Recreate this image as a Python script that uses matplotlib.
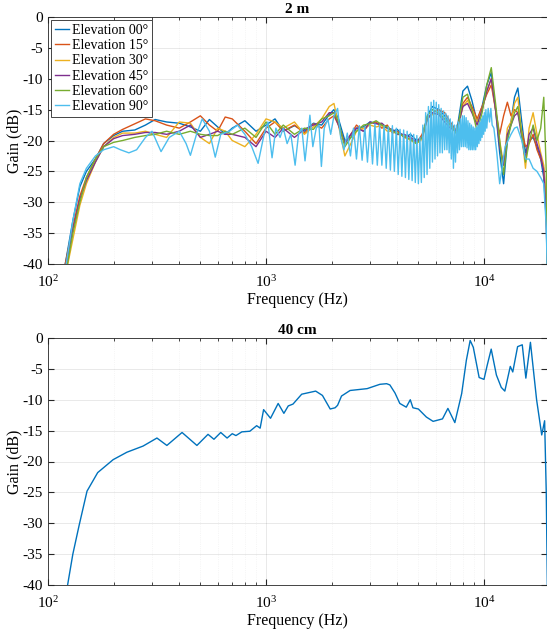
import matplotlib
matplotlib.use("Agg")
import matplotlib.pyplot as plt
from matplotlib.ticker import LogLocator, NullFormatter, FixedLocator

plt.rcParams['font.family'] = ['Liberation Serif', 'DejaVu Serif']
plt.rcParams['mathtext.fontset'] = 'stix'
plt.rcParams['axes.unicode_minus'] = False

# ---------------- data: 2 m ----------------
labels = ['Elevation 00°', 'Elevation 15°', 'Elevation 30°',
          'Elevation 45°', 'Elevation 60°', 'Elevation 90°']
colors = ['#0072BD', '#D95319', '#EDB120', '#7E2F8E', '#77AC30', '#4DBEEE']

F_A = [120, 130, 140, 150, 165, 180, 200, 220, 250, 280, 310, 350, 400, 450, 500,
       550, 600, 650, 700, 800, 900, 1000, 1100, 1200, 1350, 1500, 1650, 1800, 1950,
       2050, 2150, 2300, 2450, 2600, 2800, 3000, 3200, 3400, 3600, 3800, 4000, 4300,
       4600, 4900, 5200, 5500, 5800, 6200, 6600, 7000, 7500, 8000, 8400, 8800, 9300,
       9800, 10300, 10800, 11300, 11800, 12300, 12800, 13300, 13800, 14300, 14900,
       15500, 16100, 16800, 17500, 18200, 18800, 19300, 19600]

G_00 = [-40, -33, -27.5, -25, -23, -20.5, -19.2, -18.5, -18.3, -17.5, -16.6, -17, -17.2,
        -17.8, -18.5, -16.6, -17.8, -19, -18, -16.8, -18.5, -17.5, -16.5, -18.5, -17.6,
        -18.5, -17.2, -17.5, -15.8, -15, -16.5, -20, -19.5, -18, -17.8, -17, -17.2, -17.5,
        -18, -18.5, -18.2, -19.5, -19, -20, -19.5, -16, -14.5, -15, -16, -17.5, -18.5,
        -12, -11.2, -13.5, -17, -14.5, -11, -9, -15, -22, -27, -20, -17, -13, -11.5, -17,
        -22, -20, -19.5, -21, -23, -26, -33, -45]
G_15 = [-40, -34, -29, -26, -23, -20.5, -19, -18.2, -17.3, -16.5, -16.8, -17.5, -18,
        -17, -16, -17.5, -18.5, -16.2, -16.5, -18.5, -20.5, -18, -17, -18.5, -17.5,
        -18.8, -17.3, -18, -16.5, -16, -17.5, -20.5, -19, -17.5, -18.5, -17.2, -17, -18,
        -17.5, -18.8, -18.5, -19.5, -19.8, -20.5, -19, -16.5, -15.5, -15, -15.5, -17,
        -18.5, -14, -13, -14.5, -16.5, -14.5, -12.5, -11, -15, -19, -16, -13.8, -16, -15,
        -15.5, -18.5, -21, -20.5, -19, -21.5, -23, -24.5, -30, -45]
G_30 = [-42, -36, -30.5, -27, -23.5, -21, -19.5, -18.8, -18.8, -18.5, -19, -19.5, -17,
        -17.2, -19.5, -20.5, -18, -18.5, -20, -21, -19, -16.5, -17, -18, -17, -19, -17.8,
        -16.5, -14.5, -14, -17.5, -22.5, -20.5, -18.5, -18, -17.5, -17.8, -17.6, -18.5,
        -18.5, -19, -19.2, -20, -20.5, -19.8, -16.5, -15.8, -15.5, -16.5, -17.5, -18.8,
        -14.5, -13.5, -15, -17, -15, -12, -10, -15, -20, -24, -18, -17, -14, -13, -19,
        -24.5, -18, -15.5, -19, -22, -24, -31, -45]
G_45 = [-41, -34.5, -29.5, -26.5, -23.5, -21, -19.7, -19.2, -19, -18.7, -18.7, -19,
        -18.5, -17.5, -19.5, -19, -18.5, -19, -19, -19.5, -21, -18.5, -19.5, -18, -19.5,
        -18.2, -17.5, -17, -15.5, -15.5, -17.5, -20.5, -19, -18, -18.5, -17, -17.3, -17.2,
        -18, -18.2, -19, -19, -19.5, -20.2, -19.5, -16.5, -15.5, -15.8, -17, -18, -18.5,
        -14.5, -14, -15.5, -17.5, -15, -12, -10, -15, -21, -24, -19, -17.5, -16, -15.5,
        -19.5, -23, -19, -18, -20.5, -22.5, -25, -32, -45]
G_60 = [-42, -35, -30, -26, -23, -21, -20.3, -20, -19.5, -19.2, -19, -18.5, -19, -18.5,
        -19, -19.2, -19.2, -18.5, -19, -18, -19.5, -17, -19, -17.5, -19, -18, -18.2,
        -16.5, -16, -15.5, -17, -21, -19.5, -18.5, -17.5, -17.3, -16.8, -17.5, -17.8,
        -18.5, -18.8, -19.3, -19.8, -20.5, -19.5, -16, -15, -15.5, -16.5, -17.5, -19,
        -13, -12.5, -15, -18.5, -15.5, -11, -8.2, -14, -20, -25.5, -20, -17.5, -15.5,
        -14.5, -19, -23.5, -20.5, -17.5, -20, -18, -13, -25, -45]

F_90 = [120, 130, 140, 150, 165, 180, 200, 215, 235, 255, 280, 300, 330, 360, 400, 430,
        450, 480, 510, 550, 585, 620, 680, 740, 800, 860, 920, 980, 1020, 1066, 1110,
        1160, 1200, 1250, 1300, 1360, 1410, 1460, 1510, 1590, 1640, 1700, 1750, 1795,
        1850, 1920, 1980, 2050, 2130,
        2200, 2280, 2360, 2440, 2520, 2600, 2680, 2760, 2840, 2920, 3000, 3080, 3160,
        3240, 3320, 3400, 3480, 3560, 3640, 3720, 3800, 3880, 3960, 4040, 4120, 4200,
        4280, 4360, 4440, 4520, 4600, 4680, 4760, 4840, 4920, 5000, 5080, 5160, 5240,
        5320, 5400, 5480, 5560, 5640, 5720, 5800, 5880, 5960, 6040, 6120, 6200, 6280,
        6360, 6440, 6520, 6600, 6680, 6760, 6840, 6920, 7000, 7080, 7160, 7240, 7320,
        7400, 7480, 7560, 7640, 7720, 7800, 7880, 7960, 8040, 8120, 8200, 8280, 8360,
        8440, 8520, 8600, 8680, 8760, 8840, 8920, 9000, 9080, 9160, 9240, 9320, 9400,
        9480, 9560, 9640, 9720, 9800, 9880, 9960, 10040, 10120, 10200, 10300, 10450,
        10600, 10750, 10900, 11100, 11450, 11800, 12150, 12500, 12900, 13300, 13800,
        14200, 14900, 15500, 16100, 16800, 17500, 18200, 18800, 19300, 19600]
G_90 = [-41, -33, -27, -24.5, -22.5, -21.5, -21, -21.5, -22, -21.5, -19.5, -18.5, -21.8,
        -19.5, -18.5, -20.5, -22.4, -19, -16.5, -18.5, -22.7, -19, -18.5, -17.5, -19,
        -21, -23.7, -19, -17, -22.8, -18, -19.5, -18, -20.5, -19, -24, -19, -18, -23.3,
        -15.9, -21, -18, -17.5, -24.2, -18, -16.5, -19, -16, -14.8,
        -19.5, -21.5, -18.8, -22.5, -18.0, -23.0, -17.6, -23.2, -17.8, -23.5, -17.5,
        -23.8, -17.3, -24.0, -17.5, -24.0, -17.6, -24.5, -17.8, -24.8, -17.6, -25.0,
        -18.0, -25.5, -18.2, -25.8, -18.3, -26.0, -18.5, -26.3, -18.8, -26.5, -19.0,
        -26.8, -19.2, -27.0, -19.5, -26.8, -17.5, -26.0, -15.5, -25.5, -14.5, -24.5,
        -13.8, -23.5, -13.5, -23.0, -13.8, -22.5, -14.2, -22.0, -14.8, -22.0, -15.2,
        -21.5, -15.6, -21.5, -16.0, -22.0, -16.5, -23.0, -17.0, -24.5, -17.5, -23.5,
        -17.5, -22.0, -17.0, -21.5, -16.5, -21.0, -16.0, -21.0, -16.0, -21.0, -16.3,
        -21.2, -16.8, -21.5, -17.2, -21.5, -17.5, -21.5, -17.8, -21.5, -18.0, -21.5,
        -17.8, -21.0, -17.5, -20.5, -17.0, -20.0, -16.5, -19.5, -16.0, -19.0, -15.5,
        -18.5, -15.0, -18.0, -14.8, -17.0, -14.8, -17.5, -18, -22, -27, -24, -21, -20,
        -19, -18, -17.8, -20, -23, -23, -24.5, -25, -26, -27, -34, -45]

series_2m = [(F_A, G_00), (F_A, G_15), (F_A, G_30), (F_A, G_45), (F_A, G_60), (F_90, G_90)]

# ---------------- data: 40 cm ----------------
F_40 = [118, 123, 130, 139, 151, 169, 199, 230, 273, 316, 351, 412, 482, 542, 577, 620,
        663, 700, 728, 775, 843, 906, 940, 975, 1049, 1137, 1208, 1265, 1330, 1458,
        1690, 1815, 1970, 2075, 2130, 2220, 2430, 2910, 3330, 3575, 3700, 3905, 4110,
        4400, 4590, 4720, 5000, 5440, 5840, 6450, 6830, 7350, 7900, 8300, 8640, 8930,
        9500, 10000, 10330, 10790, 11400, 12000, 12460, 13200, 13550, 14260, 14980,
        15560, 16330, 17430, 18400, 18970, 19300, 19600]
G_40 = [-43, -40, -35, -30.3, -24.8, -21.8, -19.7, -18.5, -17.5, -16.2, -17.4, -15.3,
        -17.4, -15.6, -16.4, -15.3, -16.2, -15.5, -15.8, -15.2, -15.1, -14.2, -14.6,
        -11.6, -13, -10.6, -12.2, -11, -10.7, -9.1, -8.6, -9.3, -11.5, -11.3, -10.9, -9.4,
        -8.5, -8.2, -7.5, -7.4, -7.6, -8.9, -10.6, -11.2, -10.0, -11.3, -11.5, -12.8,
        -13.5, -13.1, -11.4, -13.7, -9, -3.6, -0.4, -1.5, -6.4, -6.7, -4.5, -1.8, -6, -8,
        -8.6, -4.6, -5.5, -1.4, -1.1, -6.5, -0.7, -10, -15.7, -13.4, -25, -45]

# ---------------- figure ----------------
W, H = 547, 631
fig = plt.figure(figsize=(W / 100, H / 100), dpi=100)

def px_axes(left, top, right, bottom):
    return fig.add_axes([left / W, 1 - bottom / H, (right - left) / W, (bottom - top) / H])

ax1 = px_axes(48, 17, 547, 264)
ax2 = px_axes(48, 338, 547, 585)

XMAX = 10 ** (2 + 499 / 218)

def style(ax, title):
    ax.set_xscale('log')
    ax.set_xlim(100, XMAX)
    ax.set_ylim(-40, 0)
    ax.set_yticks(range(-40, 1, 5))
    ax.xaxis.set_major_locator(FixedLocator([100, 1000, 10000]))
    ax.xaxis.set_minor_locator(LogLocator(base=10, subs=range(2, 10), numticks=20))
    ax.xaxis.set_minor_formatter(NullFormatter())
    ax.grid(True, which='major', color='#000000', alpha=0.10, linewidth=0.6)
    ax.grid(True, which='minor', axis='x', color='#000000', alpha=0.07,
            linewidth=0.5, linestyle=':')
    ax.tick_params(which='both', direction='in', top=True, right=True,
                   labelsize=11, colors='#262626', labelcolor='black')
    ax.tick_params(which='major', length=4)
    ax.tick_params(which='minor', length=2)
    ax.tick_params(axis='x', which='major', pad=7)
    for s in ax.spines.values():
        s.set_color('#262626')
        s.set_linewidth(0.6)
    ax.set_xlabel('Frequency (Hz)', fontsize=11.5, labelpad=2)
    ax.set_ylabel('Gain (dB)', fontsize=11.5, labelpad=0)
    ax.set_title(title, fontsize=11, fontweight='bold', pad=3)
    ax.set_axisbelow(True)

for (f, g), lab, c in zip(series_2m, labels, colors):
    ax1.plot(f, g, color=c, linewidth=1.0, label=lab, solid_joinstyle='round')
style(ax1, '2 m')
leg = ax1.legend(loc='upper left', fontsize=10, frameon=True, fancybox=False,
                 edgecolor='#262626', borderpad=0.3, labelspacing=0.16,
                 handlelength=1.0, handletextpad=0.2, borderaxespad=0.2,
                 framealpha=1.0)
leg.get_frame().set_linewidth(0.6)

ax2.plot(F_40, G_40, color=colors[0], linewidth=1.0, solid_joinstyle='round')
style(ax2, '40 cm')

fig.savefig('out.png', dpi=100)
